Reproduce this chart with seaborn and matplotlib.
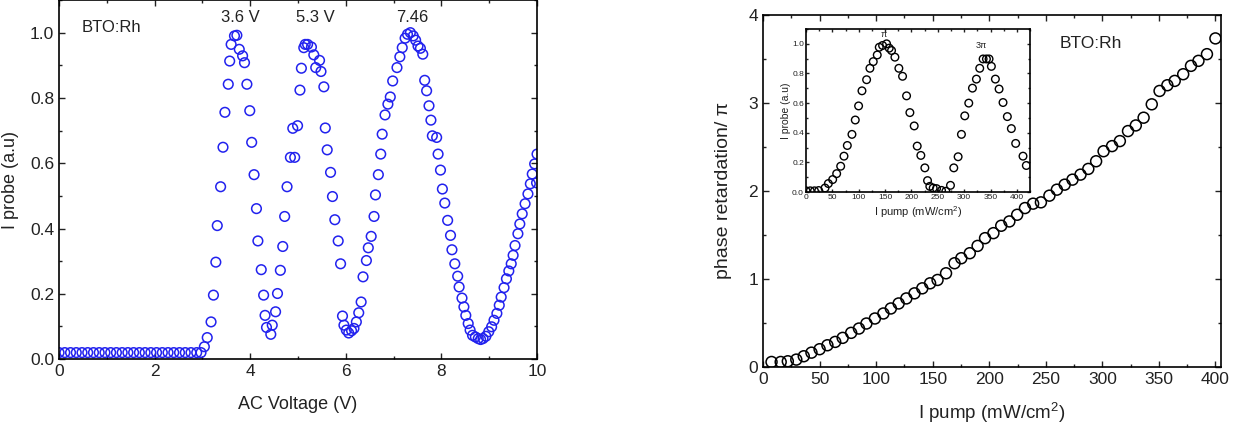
import numpy as np
import pandas as pd
import seaborn as sns
import matplotlib.pyplot as plt
from matplotlib.ticker import MultipleLocator

# left panel: probe intensity vs AC voltage
volt_flat = [0.0, 0.12, 0.24, 0.36, 0.48, 0.6, 0.72, 0.84, 0.96, 1.08, 1.2, 1.32,
             1.44, 1.56, 1.68, 1.8, 1.92, 2.04, 2.16, 2.28, 2.4, 2.52, 2.64, 2.76, 2.88, 2.97]
probe_flat = [0.02] * len(volt_flat)
volt = [3.04, 3.10, 3.18, 3.23, 3.28, 3.31, 3.38, 3.43, 3.47, 3.54, 3.57, 3.60, 3.67, 3.72,
        3.77, 3.84, 3.88, 3.93, 3.99, 4.03, 4.08, 4.13, 4.16, 4.23, 4.28, 4.31, 4.34, 4.43,
        4.46, 4.53, 4.57, 4.63, 4.68, 4.72, 4.77, 4.84, 4.93, 4.89, 4.99, 5.04, 5.07, 5.12,
        5.15, 5.20, 5.28, 5.33, 5.37, 5.45, 5.48, 5.54, 5.57, 5.61, 5.68, 5.72, 5.77, 5.84,
        5.89, 5.93, 5.96, 6.01, 6.06, 6.12, 6.17, 6.22, 6.27, 6.32, 6.36, 6.43, 6.47, 6.53,
        6.59, 6.62, 6.68, 6.73, 6.76, 6.82, 6.88, 6.93, 6.98, 7.07, 7.13, 7.18, 7.24, 7.29,
        7.35, 7.41, 7.46, 7.51, 7.56, 7.61, 7.65, 7.69, 7.74, 7.78, 7.81, 7.90, 7.93, 7.98,
        8.02, 8.07, 8.13, 8.19, 8.22, 8.28, 8.34, 8.37, 8.43, 8.47, 8.51, 8.56, 8.60, 8.65,
        8.71, 8.77, 8.82, 8.87, 8.93, 8.99, 9.05, 9.10, 9.16, 9.21, 9.25, 9.31, 9.36, 9.41,
        9.46, 9.50, 9.54, 9.60, 9.64, 9.69, 9.75, 9.81, 9.86, 9.90, 9.95, 9.99, 10.0]
probe = [0.038, 0.066, 0.114, 0.196, 0.297, 0.409, 0.528, 0.649, 0.756, 0.842, 0.913, 0.964,
         0.990, 0.992, 0.949, 0.929, 0.908, 0.842, 0.761, 0.664, 0.565, 0.461, 0.362, 0.274,
         0.196, 0.134, 0.097, 0.076, 0.104, 0.145, 0.201, 0.272, 0.345, 0.437, 0.528, 0.618,
         0.618, 0.707, 0.715, 0.824, 0.891, 0.954, 0.964, 0.964, 0.956, 0.932, 0.893, 0.915,
         0.881, 0.834, 0.708, 0.641, 0.572, 0.498, 0.427, 0.362, 0.292, 0.132, 0.104, 0.089,
         0.080, 0.087, 0.094, 0.114, 0.142, 0.175, 0.252, 0.302, 0.341, 0.376, 0.437, 0.503,
         0.565, 0.628, 0.689, 0.748, 0.781, 0.803, 0.852, 0.893, 0.926, 0.954, 0.983, 0.995,
         1.000, 0.990, 0.977, 0.959, 0.952, 0.934, 0.854, 0.822, 0.776, 0.732, 0.684, 0.679,
         0.628, 0.579, 0.521, 0.478, 0.425, 0.379, 0.335, 0.292, 0.254, 0.221, 0.187, 0.160,
         0.134, 0.109, 0.089, 0.073, 0.068, 0.063, 0.060, 0.063, 0.070, 0.084, 0.099, 0.119,
         0.140, 0.165, 0.190, 0.219, 0.246, 0.270, 0.292, 0.318, 0.348, 0.384, 0.414, 0.445,
         0.476, 0.506, 0.537, 0.567, 0.598, 0.540, 0.628]
peak_labels = ["3.6 V", "5.3 V", "7.46"]
peak_x = [3.79, 5.36, 7.38]

# right panel: phase retardation vs pump intensity
pump = [7.5, 15.6, 21.9, 29.4, 36.0, 42.8, 50.0, 56.9, 63.8, 70.4, 77.9, 84.8, 91.4, 98.9,
        106.4, 113.0, 119.9, 126.7, 133.9, 140.8, 147.7, 154.3, 161.8, 169.3, 175.3, 182.8,
        189.7, 196.3, 203.7, 210.6, 217.8, 224.7, 231.6, 238.8, 245.7, 253.2, 259.8, 266.7,
        273.6, 280.7, 287.6, 294.5, 301.1, 308.6, 315.5, 322.7, 329.6, 336.5, 343.7, 350.6,
        357.5, 364.0, 371.5, 378.4, 385.0, 392.5, 400.0]
phase = [0.057, 0.057, 0.065, 0.084, 0.122, 0.163, 0.202, 0.247, 0.285, 0.331, 0.388, 0.437,
         0.494, 0.551, 0.608, 0.665, 0.722, 0.779, 0.837, 0.894, 0.951, 0.989, 1.065, 1.179,
         1.236, 1.293, 1.376, 1.464, 1.521, 1.605, 1.654, 1.730, 1.806, 1.856, 1.871, 1.947,
         2.015, 2.072, 2.129, 2.186, 2.251, 2.338, 2.452, 2.510, 2.567, 2.681, 2.745, 2.833,
         2.985, 3.137, 3.202, 3.251, 3.327, 3.422, 3.479, 3.555, 3.734]

# inset: probe intensity vs pump intensity
inset_pump = [0, 8, 16, 24, 36.0, 42.3, 50.5, 58.1, 65.7, 72.0, 78.3, 87.1, 93.4, 99.7, 106.1,
              114.9, 121.2, 127.5, 135.1, 138.9, 145.2, 152.8, 157.8, 162.2, 168.6, 176.1,
              183.1, 190.7, 197.0, 205.2, 210.9, 217.8, 225.4, 230.5, 234.8, 241.2, 247.5,
              257.0, 265.2, 274.0, 280.3, 288.5, 294.8, 301.1, 308.7, 315.7, 323.2, 329.5,
              335.9, 342.2, 347.2, 351.6, 359.2, 366.2, 373.7, 381.9, 389.5, 397.7, 411.6, 417.9]
inset_probe = [0.008, 0.008, 0.008, 0.01, 0.027, 0.057, 0.084, 0.124, 0.174, 0.242, 0.314,
               0.389, 0.486, 0.581, 0.683, 0.758, 0.835, 0.880, 0.925, 0.977, 0.989, 1.000,
               0.971, 0.955, 0.910, 0.835, 0.781, 0.649, 0.536, 0.446, 0.310, 0.247, 0.163,
               0.077, 0.038, 0.027, 0.023, 0.011, 0.005, 0.045, 0.163, 0.238, 0.389, 0.514,
               0.600, 0.701, 0.762, 0.835, 0.898, 0.898, 0.898, 0.848, 0.762, 0.695, 0.604,
               0.509, 0.428, 0.328, 0.242, 0.179]

sns.set_style("ticks")
plt.rcParams['font.family'] = ['Liberation Sans', 'DejaVu Sans']
plt.rcParams['mathtext.default'] = 'regular'
plt.rcParams['text.color'] = '#222222'
plt.rcParams['axes.labelcolor'] = '#222222'
plt.rcParams['xtick.color'] = '#222222'
plt.rcParams['ytick.color'] = '#222222'


def style_axes(ax, fs, major_len=4.5, minor_len=2.5):
    ax.tick_params(which='both', direction='in', top=True, right=True, labelsize=fs, width=1)
    ax.tick_params(which='major', length=major_len)
    ax.tick_params(which='minor', length=minor_len)
    for sp in ax.spines.values():
        sp.set_color('black')
        sp.set_linewidth(1.2)


fig = plt.figure(figsize=(12.46, 4.25), dpi=100)

# left panel
ax1 = fig.add_axes([0.0474, 0.155, 0.3836, 0.845])
df_left = pd.DataFrame({'volt': volt_flat + volt, 'probe': probe_flat + probe})
sns.scatterplot(data=df_left, x='volt', y='probe', ax=ax1, marker='o', s=48,
                facecolors='none', edgecolor='#2222ee', linewidth=1.1)
ax1.set_xlim(0, 10)
ax1.set_ylim(0, 1.1)
ax1.xaxis.set_major_locator(MultipleLocator(2))
ax1.xaxis.set_minor_locator(MultipleLocator(1))
ax1.yaxis.set_major_locator(MultipleLocator(0.2))
ax1.yaxis.set_minor_locator(MultipleLocator(0.1))
ax1.yaxis.set_major_formatter(plt.FormatStrFormatter('%.1f'))
ax1.set_xlabel('AC Voltage (V)', fontsize=13, labelpad=12)
ax1.set_ylabel('I probe (a.u)', fontsize=13, labelpad=8)
style_axes(ax1, 12.5)
ax1.text(0.48, 1.015, 'BTO:Rh', fontsize=12, ha='left', va='center')
for lab, px in zip(peak_labels, peak_x):
    ax1.text(px, 1.046, lab, fontsize=12, ha='center', va='center')

# right panel
ax2 = fig.add_axes([0.6124, 0.1365, 0.3676, 0.8282])
df_right = pd.DataFrame({'pump': pump, 'phase': phase})
sns.scatterplot(data=df_right, x='pump', y='phase', ax=ax2, marker='o', s=62,
                facecolors='none', edgecolor='black', linewidth=1.1)
ax2.set_xlim(0, 405)
ax2.set_ylim(0, 4)
ax2.xaxis.set_major_locator(MultipleLocator(50))
ax2.xaxis.set_minor_locator(MultipleLocator(25))
ax2.yaxis.set_major_locator(MultipleLocator(1))
ax2.yaxis.set_minor_locator(MultipleLocator(0.5))
ax2.set_xlabel('I pump (mW/cm$^2$)', fontsize=13.5, labelpad=10)
ax2.set_ylabel('phase retardation/ π', fontsize=14, labelpad=12)
style_axes(ax2, 12.5)
ax2.text(262, 3.68, 'BTO:Rh', fontsize=12.5, ha='left', va='center')

# inset
ax3 = fig.add_axes([0.6469, 0.5482, 0.1798, 0.3835])
df_inset = pd.DataFrame({'pump': inset_pump, 'probe': inset_probe})
sns.scatterplot(data=df_inset, x='pump', y='probe', ax=ax3, marker='o', s=30,
                facecolors='none', edgecolor='black', linewidth=1.0)
ax3.set_xlim(0, 425)
ax3.set_ylim(0, 1.1)
ax3.xaxis.set_major_locator(MultipleLocator(50))
ax3.xaxis.set_minor_locator(MultipleLocator(25))
ax3.yaxis.set_major_locator(MultipleLocator(0.2))
ax3.yaxis.set_minor_locator(MultipleLocator(0.1))
ax3.yaxis.set_major_formatter(plt.FormatStrFormatter('%.1f'))
ax3.set_xlabel('I pump (mW/cm$^2$)', fontsize=8, labelpad=2)
ax3.set_ylabel('I probe (a.u)', fontsize=7.5, labelpad=1)
style_axes(ax3, 6, major_len=2.5, minor_len=1.5)
ax3.tick_params(which='both', pad=1.5)
ax3.text(148, 1.03, 'π', fontsize=6.5, ha='center', va='bottom')
ax3.text(333, 0.96, '3π', fontsize=6.5, ha='center', va='bottom')

fig.savefig('out.png', dpi=100)
